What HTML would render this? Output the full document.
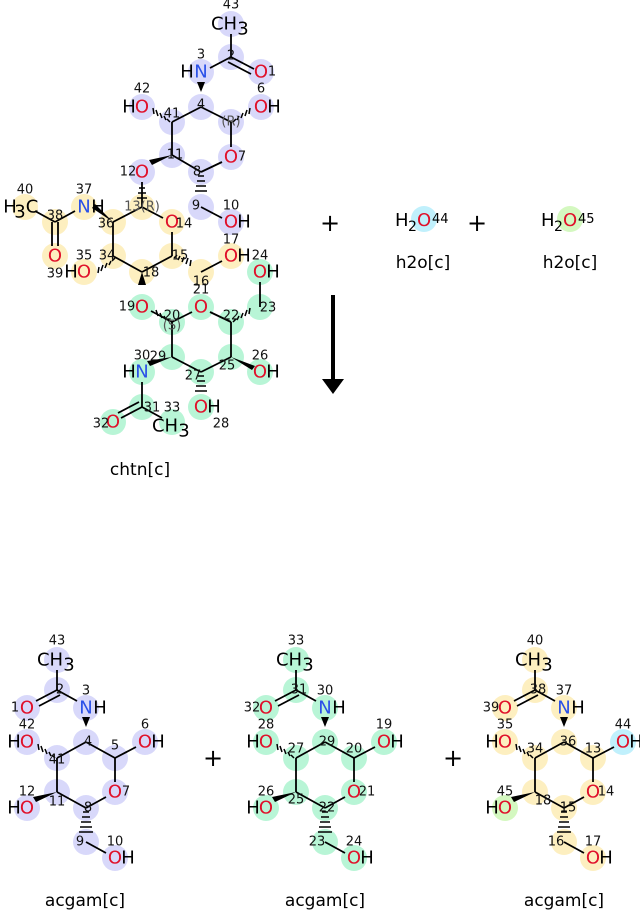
<!DOCTYPE html>
<html><head><meta charset="utf-8"><style>
html,body{margin:0;padding:0;background:#fff}
svg{display:block}
text{font-family:"DejaVu Sans","Liberation Sans",sans-serif}
.e{font-size:18px;text-anchor:middle;dominant-baseline:central}
.n{font-size:13px;fill:#111;text-anchor:middle;dominant-baseline:central}
.O{fill:#e0102a}.N{fill:#2a50e8}
.b line{stroke:#000;stroke-width:1.8}
.lbl{font-size:17px;text-anchor:middle}
</style></head><body>
<svg width="640" height="912" viewBox="0 0 640 912" xmlns="http://www.w3.org/2000/svg">
<g fill="#d8d8fa">
<circle cx="231" cy="24" r="13"/><circle cx="231" cy="57" r="13"/><circle cx="261" cy="72" r="13"/><circle cx="201" cy="72" r="13"/>
<circle cx="201" cy="107" r="13"/><circle cx="231" cy="122" r="13"/><circle cx="261" cy="107" r="13"/><circle cx="231" cy="157" r="13"/>
<circle cx="201" cy="172" r="13"/><circle cx="201" cy="207" r="13"/><circle cx="231" cy="222" r="13"/><circle cx="172" cy="155" r="13"/>
<circle cx="172" cy="122" r="13"/><circle cx="142" cy="107" r="13"/><circle cx="142" cy="172" r="13"/>
</g>
<g fill="#fdefc0">
<circle cx="142" cy="207" r="13"/><circle cx="172" cy="222" r="13"/><circle cx="113" cy="222" r="13"/><circle cx="84" cy="207" r="13"/>
<circle cx="55" cy="222" r="13"/><circle cx="25" cy="207" r="13"/><circle cx="55" cy="256" r="13"/><circle cx="113" cy="256" r="13"/>
<circle cx="84" cy="272" r="13"/><circle cx="142" cy="272" r="13"/><circle cx="172" cy="256" r="13"/><circle cx="201" cy="272" r="13"/>
<circle cx="231" cy="256" r="13"/>
</g>
<g fill="#b8f5d6">
<circle cx="142" cy="307" r="13"/><circle cx="172" cy="322" r="13"/><circle cx="201" cy="307" r="13"/><circle cx="231" cy="322" r="13"/>
<circle cx="260" cy="307" r="13"/><circle cx="260" cy="272" r="13"/><circle cx="231" cy="357" r="13"/><circle cx="260" cy="372" r="13"/>
<circle cx="201" cy="372" r="13"/><circle cx="201" cy="407" r="13"/><circle cx="172" cy="357" r="13"/><circle cx="142" cy="372" r="13"/>
<circle cx="142" cy="407" r="13"/><circle cx="113" cy="422" r="13"/><circle cx="172" cy="422" r="13"/>
</g>
<g class="b">
<line x1="231" y1="34" x2="231" y2="57"/><line x1="231" y1="57" x2="254" y2="69"/><line x1="228" y1="62" x2="251" y2="74"/>
<line x1="231" y1="57" x2="210" y2="68"/><line x1="231" y1="122" x2="231" y2="147"/><line x1="222" y1="162" x2="201" y2="172"/>
<line x1="201" y1="107" x2="231" y2="122"/>
<line x1="201" y1="172" x2="172" y2="155"/><line x1="172" y1="155" x2="172" y2="122"/><line x1="172" y1="122" x2="201" y2="107"/>
<line x1="201" y1="207" x2="222" y2="218"/>
<line x1="142" y1="182" x2="142" y2="207"/><line x1="142" y1="207" x2="163" y2="218"/>
<line x1="142" y1="207" x2="113" y2="222"/><line x1="75" y1="211" x2="55" y2="222"/>
<line x1="55" y1="222" x2="35" y2="211"/><line x1="52" y1="222" x2="52" y2="246"/><line x1="58" y1="222" x2="58" y2="246"/>
<line x1="113" y1="222" x2="113" y2="256"/><line x1="113" y1="256" x2="142" y2="272"/>
<line x1="142" y1="272" x2="172" y2="256"/><line x1="172" y1="256" x2="172" y2="232"/>
<line x1="201" y1="272" x2="222" y2="261"/>
<line x1="151" y1="311" x2="172" y2="322"/>
<line x1="172" y1="322" x2="192" y2="312"/><line x1="210" y1="312" x2="231" y2="322"/>
<line x1="260" y1="307" x2="260" y2="282"/><line x1="231" y1="322" x2="231" y2="357"/>
<line x1="231" y1="357" x2="201" y2="372"/><line x1="201" y1="372" x2="172" y2="357"/>
<line x1="172" y1="357" x2="172" y2="322"/><line x1="142" y1="382" x2="142" y2="407"/>
<line x1="142" y1="407" x2="121" y2="418"/><line x1="139" y1="402" x2="118" y2="413"/><line x1="142" y1="407" x2="162" y2="418"/>
</g>
<g fill="#000">
<polygon points="201,92 197,82 205,82"/><polygon points="172,155 152,165 149,160"/><polygon points="113,222 92,208 95,204"/>
<polygon points="172,357 150,366 147,361"/><polygon points="231,357 252,370 255,366"/><polygon points="142,272 138,285 146,285"/>
</g>
<g stroke="#000" stroke-width="1.5">
<path d="M170,122 l-3,-3 M166,120 l-2,-4 M162,118 l-2,-5 M158,116 l-2,-6 M154,114 l-1,-6"/>
<path d="M233,122 l3,-3 M237,120 l2,-4 M241,118 l2,-5 M245,116 l2,-6 M249,114 l1,-6"/>
<path d="M198,176 h6 M197,181 h8 M196,186 h10 M195,191 h12"/>
<path d="M139,188 h6 M138,193 h8 M137,198 h10"/>
<path d="M115,258 l-3,3 M111,261 l-2,4 M107,263 l-2,5 M103,265 l-2,6 M99,267 l-1,6"/>
<path d="M174,258 l3,-3 M178,260 l2,-4 M182,262 l2,-5 M186,264 l2,-6 M190,266 l1,-6"/>
<path d="M170,322 l-3,-3 M166,320 l-2,-4 M162,318 l-2,-5 M158,316 l-2,-6"/>
<path d="M233,322 l3,-3 M237,320 l2,-4 M241,318 l2,-5 M245,316 l2,-6 M249,314 l1,-6"/>
<path d="M198,376 h6 M197,381 h8 M196,386 h10 M195,391 h12"/>
</g>
<text class="e" x="224" y="24">CH</text><text class="e" x="243" y="29" font-size="14">3</text>
<text class="e O" x="261" y="72">O</text><text class="e" x="187" y="72">H</text><text class="e N" x="201" y="72">N</text>
<text class="e O" x="261" y="107">O</text><text class="e" x="274" y="107">H</text>
<text class="e O" x="231" y="157">O</text><text class="e O" x="142" y="107">O</text><text class="e" x="129" y="107">H</text>
<text class="e O" x="231" y="222">O</text><text class="e" x="244" y="222">H</text><text class="e O" x="142" y="172">O</text>
<text class="e O" x="172" y="222">O</text><text class="e N" x="84" y="207">N</text><text class="e" x="98" y="207">H</text>
<text class="e" x="10" y="207">H</text><text class="e" x="20" y="212" font-size="14">3</text><text class="e" x="32" y="207">C</text>
<text class="e O" x="55" y="256">O</text><text class="e O" x="84" y="272">O</text><text class="e" x="71" y="272">H</text>
<text class="e O" x="231" y="256">O</text><text class="e" x="244" y="256">H</text>
<text class="e O" x="142" y="307">O</text><text class="e O" x="201" y="307">O</text>
<text class="e O" x="260" y="272">O</text><text class="e" x="273" y="272">H</text>
<text class="e O" x="260" y="372">O</text><text class="e" x="273" y="372">H</text>
<text class="e O" x="201" y="407">O</text><text class="e" x="214" y="407">H</text>
<text class="e N" x="142" y="372">N</text><text class="e" x="129" y="372">H</text>
<text class="e O" x="113" y="422">O</text><text class="e" x="165" y="426">CH</text><text class="e" x="184" y="431" font-size="14">3</text>
<g class="n">
<text x="231" y="5">43</text><text x="231" y="56">2</text><text x="272" y="72">1</text><text x="201" y="55">3</text>
<text x="201" y="105">4</text><text x="231" y="122" fill="#555">(R)</text><text x="261" y="89">6</text><text x="242" y="157">7</text>
<text x="197" y="172">8</text><text x="196" y="206">9</text><text x="231" y="206">10</text><text x="175" y="155">11</text>
<text x="172" y="114">41</text><text x="142" y="89">42</text><text x="128" y="172">12</text><text x="142" y="207" fill="#555">13(R)</text>
<text x="184" y="224">14</text><text x="106" y="224">36</text><text x="84" y="190">37</text><text x="55" y="216">38</text>
<text x="25" y="190">40</text><text x="55" y="274">39</text><text x="107" y="256">34</text><text x="84" y="256">35</text>
<text x="151" y="273">18</text><text x="180" y="256">15</text><text x="201" y="282">16</text><text x="231" y="240">17</text>
<text x="127" y="307">19</text><text x="172" y="316">20</text><text x="172" y="326" fill="#555">(S)</text><text x="201" y="290">21</text>
<text x="231" y="316">22</text><text x="268" y="308">23</text><text x="260" y="256">24</text><text x="227" y="366">25</text>
<text x="260" y="356">26</text><text x="193" y="376">27</text><text x="221" y="424">28</text><text x="158" y="357">29</text>
<text x="142" y="356">30</text><text x="152" y="408">31</text><text x="101" y="424">32</text><text x="172" y="408">33</text>
</g>
<text class="lbl" x="140" y="475">chtn[c]</text>

<circle cx="424" cy="219" r="13" fill="#c0f0fc"/>
<text x="395" y="226" font-size="18">H</text><text x="408" y="231" font-size="14">2</text><text x="417" y="226" font-size="18" class="O">O</text><text x="432" y="223" font-size="13">44</text>
<text class="lbl" x="423" y="268">h2o[c]</text>
<circle cx="570" cy="219" r="13" fill="#d4f8c0"/>
<text x="541" y="226" font-size="18">H</text><text x="554" y="231" font-size="14">2</text><text x="563" y="226" font-size="18" class="O">O</text><text x="578" y="223" font-size="13">45</text>
<text class="lbl" x="570" y="268">h2o[c]</text>
<text x="330" y="231" font-size="24" text-anchor="middle">+</text>
<text x="477" y="231" font-size="24" text-anchor="middle">+</text>
<line x1="333" y1="295" x2="333" y2="380" stroke="#000" stroke-width="4"/>
<polygon points="322,379 344,379 333,394" fill="#000"/>

<defs>
<g id="bonds" class="b">
<line x1="57" y1="670" x2="57" y2="690"/><line x1="57" y1="690" x2="36" y2="701"/><line x1="60" y1="695" x2="39" y2="706"/>
<line x1="57" y1="690" x2="77" y2="701"/><line x1="86" y1="742" x2="115" y2="758"/>
<line x1="115" y1="758" x2="136" y2="747"/><line x1="115" y1="758" x2="115" y2="782"/><line x1="106" y1="797" x2="86" y2="808"/>
<line x1="86" y1="808" x2="57" y2="792"/><line x1="57" y1="792" x2="57" y2="758"/><line x1="57" y1="758" x2="86" y2="742"/>
<line x1="86" y1="842" x2="106" y2="853"/>
<polygon points="86,727 82,717 90,717" fill="#000" stroke="none"/>
<polygon points="57,792 36,802 33,797" fill="#000" stroke="none"/>
<path d="M55,758 l-3,-3 M51,756 l-2,-4 M47,754 l-2,-5 M43,752 l-2,-6 M39,750 l-1,-6" stroke="#000" stroke-width="1.5"/>
<path d="M83,812 h6 M82,817 h8 M81,822 h10 M80,827 h12 M79,832 h14" stroke="#000" stroke-width="1.5"/>
</g>
<g id="labs">
<text class="e" x="50" y="660">CH</text><text class="e" x="69" y="665" font-size="14">3</text>
<text class="e O" x="27" y="708">O</text><text class="e N" x="86" y="708">N</text><text class="e" x="100" y="708">H</text>
<text class="e O" x="145" y="742">O</text><text class="e" x="158" y="742">H</text>
<text class="e O" x="27" y="742">O</text><text class="e" x="14" y="742">H</text>
<text class="e O" x="27" y="808">O</text><text class="e" x="14" y="808">H</text>
<text class="e O" x="115" y="792">O</text>
<text class="e O" x="115" y="858">O</text><text class="e" x="128" y="858">H</text>
</g>
</defs>
<g fill="#d8d8fa">
<circle cx="57" cy="660" r="13"/><circle cx="57" cy="690" r="13"/><circle cx="27" cy="708" r="13"/><circle cx="86" cy="708" r="13"/>
<circle cx="86" cy="742" r="13"/><circle cx="115" cy="758" r="13"/><circle cx="145" cy="742" r="13"/><circle cx="115" cy="792" r="13"/>
<circle cx="86" cy="808" r="13"/><circle cx="86" cy="842" r="13"/><circle cx="115" cy="858" r="13"/><circle cx="57" cy="792" r="13"/>
<circle cx="57" cy="758" r="13"/><circle cx="27" cy="742" r="13"/><circle cx="27" cy="808" r="13"/>
</g>
<g fill="#b8f5d6" transform="translate(239,0)">
<circle cx="57" cy="660" r="13"/><circle cx="57" cy="690" r="13"/><circle cx="27" cy="708" r="13"/><circle cx="86" cy="708" r="13"/>
<circle cx="86" cy="742" r="13"/><circle cx="115" cy="758" r="13"/><circle cx="145" cy="742" r="13"/><circle cx="115" cy="792" r="13"/>
<circle cx="86" cy="808" r="13"/><circle cx="86" cy="842" r="13"/><circle cx="115" cy="858" r="13"/><circle cx="57" cy="792" r="13"/>
<circle cx="57" cy="758" r="13"/><circle cx="27" cy="742" r="13"/><circle cx="27" cy="808" r="13"/>
</g>
<g fill="#fdefc0" transform="translate(478,0)">
<circle cx="57" cy="660" r="13"/><circle cx="57" cy="690" r="13"/><circle cx="27" cy="708" r="13"/><circle cx="86" cy="708" r="13"/>
<circle cx="86" cy="742" r="13"/><circle cx="115" cy="758" r="13"/><circle cx="145" cy="742" r="13" fill="#c0f0fc"/><circle cx="115" cy="792" r="13"/>
<circle cx="86" cy="808" r="13"/><circle cx="86" cy="842" r="13"/><circle cx="115" cy="858" r="13"/><circle cx="57" cy="792" r="13"/>
<circle cx="57" cy="758" r="13"/><circle cx="27" cy="742" r="13"/><circle cx="27" cy="808" r="13" fill="#d4f8c0"/>
</g>
<use href="#bonds"/><use href="#bonds" transform="translate(239,0)"/><use href="#bonds" transform="translate(478,0)"/>
<use href="#labs"/><use href="#labs" transform="translate(239,0)"/><use href="#labs" transform="translate(478,0)"/>
<g class="n">
<text x="57" y="641">43</text><text x="60" y="690">2</text><text x="15" y="708">1</text><text x="86" y="691">3</text>
<text x="88" y="742">4</text><text x="115" y="746">5</text><text x="145" y="725">6</text><text x="126" y="792">7</text>
<text x="88" y="808">8</text><text x="80" y="842">9</text><text x="115" y="842">10</text><text x="57" y="802">11</text>
<text x="57" y="760">41</text><text x="27" y="725">42</text><text x="27" y="792">12</text>
</g>
<g class="n" transform="translate(239,0)">
<text x="57" y="641">33</text><text x="60" y="690">31</text><text x="13" y="708">32</text><text x="86" y="691">30</text>
<text x="88" y="742">29</text><text x="115" y="749">20</text><text x="145" y="725">19</text><text x="128" y="792">21</text>
<text x="88" y="808">22</text><text x="78" y="842">23</text><text x="115" y="842">24</text><text x="57" y="800">25</text>
<text x="57" y="749">27</text><text x="27" y="725">28</text><text x="27" y="792">26</text>
</g>
<g class="n" transform="translate(478,0)">
<text x="57" y="641">40</text><text x="60" y="690">38</text><text x="13" y="708">39</text><text x="86" y="691">37</text>
<text x="90" y="742">36</text><text x="115" y="749">13</text><text x="145" y="725">44</text><text x="128" y="792">14</text>
<text x="90" y="808">15</text><text x="78" y="842">16</text><text x="115" y="842">17</text><text x="65" y="801">18</text>
<text x="57" y="749">34</text><text x="27" y="725">35</text><text x="27" y="792">45</text>
</g>
<text x="213" y="766" font-size="24" text-anchor="middle">+</text>
<text x="453" y="766" font-size="24" text-anchor="middle">+</text>
<text class="lbl" x="85" y="906">acgam[c]</text>
<text class="lbl" x="325" y="906">acgam[c]</text>
<text class="lbl" x="564" y="906">acgam[c]</text>
</svg>
</body></html>
